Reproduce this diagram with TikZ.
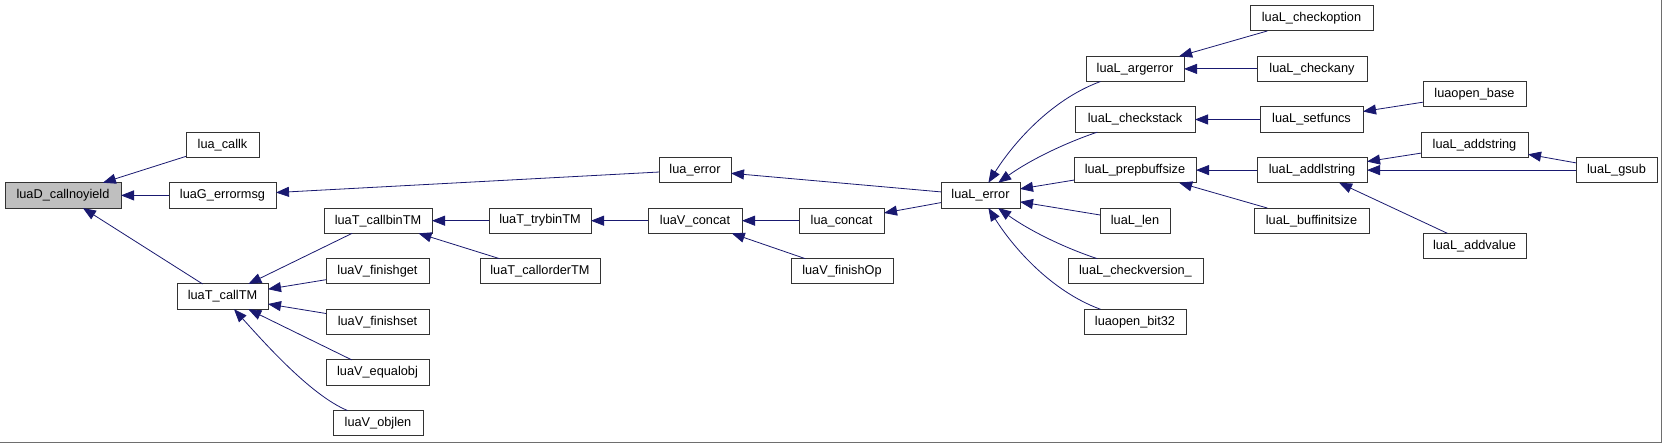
\documentclass[tikz,border=0pt]{standalone}
\usepackage{fontspec}
\setmainfont{Liberation Sans}
\usetikzlibrary{arrows.meta}
\definecolor{edgeblue}{RGB}{25,25,112}
\definecolor{framegray}{RGB}{110,110,110}
\definecolor{rootfill}{RGB}{191,191,191}
\tikzset{
  fn/.style={draw=black!80, line width=0.9pt, fill=white, minimum height=25.3pt, inner sep=0pt, outer sep=0pt,
    font=\fontsize{12.75}{14}\selectfont},
  root/.style={fn, fill=rootfill},
  call/.style={draw=edgeblue, line width=0.8pt, -{Triangle[length=13pt,width=10pt]}, fill=none},
}
\begin{document}
\begin{tikzpicture}[x=1pt,y=-1pt]
\useasboundingbox (0,0) rectangle (1663,443);
\fill[white] (0,0) rectangle (1663,443);
\draw[framegray, line width=1.3pt] (1661.8,0) -- (1661.8,442.3) -- (0,442.3);
% nodes
\node[root, minimum width=116pt] (cn) at (63,195.4) {luaD\_callnoyield};
\node[fn, minimum width=73pt] (callk) at (222.5,144.8) {lua\_callk};
\node[fn, minimum width=107pt] (gerr) at (222.5,195.4) {luaG\_errormsg};
\node[fn, minimum width=91pt] (calltm) at (222.5,296.6) {luaT\_callTM};
\node[fn, minimum width=108pt] (callbin) at (378,220.7) {luaT\_callbinTM};
\node[fn, minimum width=103pt] (fget) at (377.5,271.3) {luaV\_finishget};
\node[fn, minimum width=103pt] (fset) at (377.5,321.9) {luaV\_finishset};
\node[fn, minimum width=103pt] (equal) at (377.5,372.5) {luaV\_equalobj};
\node[fn, minimum width=90pt] (objlen) at (378,423.1) {luaV\_objlen};
\node[fn, minimum width=102pt] (trybin) at (540,220.7) {luaT\_trybinTM};
\node[fn, minimum width=120pt] (callorder) at (540,271.3) {luaT\_callorderTM};
\node[fn, minimum width=72pt] (luaerr) at (695,170.1) {lua\_error};
\node[fn, minimum width=94pt] (vconcat) at (695,220.7) {luaV\_concat};
\node[fn, minimum width=85pt] (lconcat) at (841.5,220.7) {lua\_concat};
\node[fn, minimum width=102pt] (finop) at (842,271.3) {luaV\_finishOp};
\node[fn, minimum width=79pt] (lerr) at (980.5,195.4) {luaL\_error};
\node[fn, minimum width=98pt] (argerr) at (1135,68.9) {luaL\_argerror};
\node[fn, minimum width=120pt] (cstack) at (1135,119.5) {luaL\_checkstack};
\node[fn, minimum width=122pt] (prep) at (1135,170.1) {luaL\_prepbuffsize};
\node[fn, minimum width=70pt] (len) at (1135,220.7) {luaL\_len};
\node[fn, minimum width=135pt] (cver) at (1135.5,271.3) {luaL\_checkversion\_};
\node[fn, minimum width=102pt] (bit32) at (1135,321.9) {luaopen\_bit32};
\node[fn, minimum width=123pt] (copt) at (1311.5,18.3) {luaL\_checkoption};
\node[fn, minimum width=110pt] (cany) at (1312,68.9) {luaL\_checkany};
\node[fn, minimum width=103pt] (setf) at (1311.5,119.5) {luaL\_setfuncs};
\node[fn, minimum width=110pt] (addl) at (1312,170.1) {luaL\_addlstring};
\node[fn, minimum width=115pt] (binit) at (1311.5,220.7) {luaL\_buffinitsize};
\node[fn, minimum width=103pt] (obase) at (1474.5,94.2) {luaopen\_base};
\node[fn, minimum width=107pt] (adds) at (1474.5,144.8) {luaL\_addstring};
\node[fn, minimum width=103pt] (addv) at (1474.5,246.0) {luaL\_addvalue};
\node[fn, minimum width=81pt] (gsub) at (1616.5,170.1) {luaL\_gsub};
% edges
\draw[call] (callk) -- (cn);
\draw[call] (gerr) -- (cn);
\draw[call] (calltm) -- (cn);
\draw[call] (luaerr) -- (gerr);
\draw[call] (callbin) -- (calltm);
\draw[call] (fget) -- (calltm);
\draw[call] (fset) -- (calltm);
\draw[call] (equal) -- (calltm);
\draw[call] (objlen) .. controls (310,395) and (262,340) .. (calltm);
\draw[call] (trybin) -- (callbin);
\draw[call] (callorder) -- (callbin);
\draw[call] (vconcat) -- (trybin);
\draw[call] (lconcat) -- (vconcat);
\draw[call] (finop) -- (vconcat);
\draw[call] (lerr) -- (luaerr);
\draw[call] (lerr) -- (lconcat);
\draw[call] (argerr) .. controls (1050,100) and (1012,145) .. (lerr);
\draw[call] (cstack) .. controls (1065,143) and (1030,160) .. (lerr);
\draw[call] (prep) -- (lerr);
\draw[call] (len) -- (lerr);
\draw[call] (cver) .. controls (1065,248) and (1030,231) .. (lerr);
\draw[call] (bit32) .. controls (1050,290.8) and (1012,245.8) .. (lerr);
\draw[call] (copt) -- (argerr);
\draw[call] (cany) -- (argerr);
\draw[call] (setf) -- (cstack);
\draw[call] (addl) -- (prep);
\draw[call] (binit) -- (prep);
\draw[call] (obase) -- (setf);
\draw[call] (adds) -- (addl);
\draw[call] (gsub) -- (addl);
\draw[call] (addv) -- (addl);
\draw[call] (gsub) -- (adds);
\end{tikzpicture}
\end{document}
